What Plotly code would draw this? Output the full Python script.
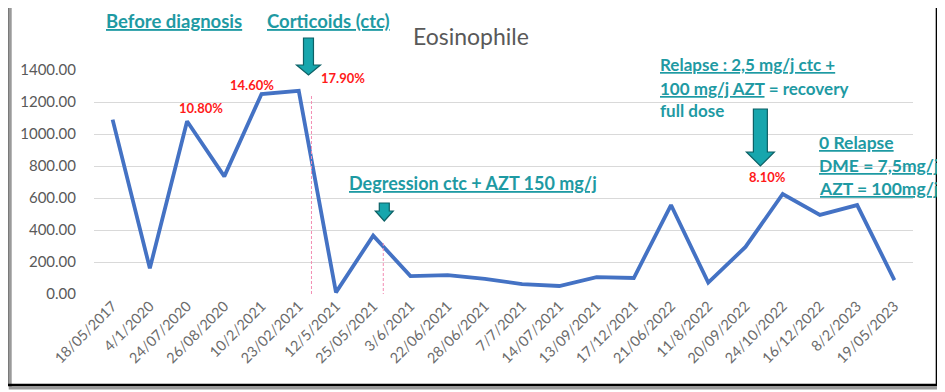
import plotly.graph_objects as go

dates = ["18/05/2017", "4/1/2020", "24/07/2020", "26/08/2020", "10/2/2021", "23/02/2021",
         "12/5/2021", "25/05/2021", "3/6/2021", "22/06/2021", "28/06/2021", "7/7/2021",
         "14/07/2021", "13/09/2021", "17/12/2021", "21/06/2022", "11/8/2022", "20/09/2022",
         "24/10/2022", "16/12/2022", "8/2/2023", "19/05/2023"]
eosinophils = [1090, 160, 1080, 735, 1250, 1270, 10, 365, 112, 118, 94, 62, 50, 106, 100,
               556, 71, 294, 625, 494, 556, 87]
y_ticks = [0, 200, 400, 600, 800, 1000, 1200, 1400]

OFF = 8  # page body margin
W, H = 945 - OFF, 392 - OFF
L, R, T, B = 92, 913, 70, 294
def px(x): return (x - L) / (R - L)
def py(y): return (B - y) / (B - T)

TEAL = "#1e9aa3"
FONT = "Lato, 'Open Sans', sans-serif"
idx = list(range(len(dates)))

fig = go.Figure()
fig.add_trace(go.Scatter(x=idx, y=eosinophils, mode="lines",
                         line=dict(color="#4472C4", width=3.8), hoverinfo="skip"))

ann = []
def text(t, x, y, size=16, color=TEAL, xa="left", ya="middle"):
    ann.append(dict(text=t, x=px(x), y=py(y), xref="paper", yref="paper", showarrow=False,
                    xanchor=xa, yanchor=ya, font=dict(family=FONT, size=size, color=color)))

text("Eosinophile", 470, 36, size=23, color="#595959", xa="center")
text("<b><u>Before diagnosis</u></b>", 102, 8, size=18.5, ya="top")
text("<b><u>Corticoids (ctc)</u></b>", 263, 8, size=18.5, ya="top")
text("<b><u>Degression ctc + AZT 150 mg/j</u></b>", 346, 183, size=18)
text("<b><u>Relapse : 2,5 mg/j ctc +</u></b>", 657, 65, size=17)
text("<b><u>100 mg/j AZT</u> = recovery</b>", 657, 88, size=17)
text("<b>full dose</b>", 657, 110, size=17)
text("<b><u>0 Relapse</u></b>", 817, 142, size=17.5)
text("<b><u>DME = 7,5mg/j</u></b>", 817, 165, size=17.5)
text("<b><u>AZT = 100mg/j</u></b>", 817, 188, size=17.5)

RED = "#ff1a1a"
text("<b>10.80%</b>", 199, 108, size=13, color=RED, xa="center")
text("<b>14.60%</b>", 250, 85, size=13, color=RED, xa="center")
text("<b>17.90%</b>", 342, 78, size=13, color=RED, xa="center")
text("<b>8.10%</b>", 767, 177, size=13, color=RED, xa="center")

shapes = []
def arrow(xl, xr, ytop, yhead, hl, hr, ytip):
    xc = (hl + hr) / 2
    pts = [(xl, ytop), (xr, ytop), (xr, yhead), (hr, yhead), (xc, ytip), (hl, yhead), (xl, yhead)]
    path = "M " + " L ".join(f"{px(a):.5f},{py(b):.5f}" for a, b in pts) + " Z"
    shapes.append(dict(type="path", path=path, xref="paper", yref="paper",
                       fillcolor="#17a6ad", line=dict(color="#0d6166", width=1.2)))

arrow(302, 312, 38, 65, 295, 319, 75)
arrow(753, 767, 109, 152, 746, 774, 166)
arrow(378, 388, 203, 211, 374, 392, 221)

# pink dashed vertical markers
shapes.append(dict(type="line", x0=px(310), x1=px(310), y0=py(96), y1=py(294), xref="paper", yref="paper",
                   line=dict(color="#f28db3", width=1, dash="3px,2px")))
shapes.append(dict(type="line", x0=px(382), x1=px(382), y0=py(243), y1=py(294), xref="paper", yref="paper",
                   line=dict(color="#f28db3", width=1, dash="3px,2px")))

# frame with shadow
shapes.append(dict(type="rect", x0=px(8), x1=px(940), y0=py(6), y1=py(388), xref="paper", yref="paper",
                   line=dict(color="#9a9a9a", width=3), layer="below"))
shapes.append(dict(type="rect", x0=px(5), x1=px(937), y0=py(3), y1=py(385), xref="paper", yref="paper",
                   line=dict(color="#000000", width=2.5)))

fig.update_layout(
    width=W, height=H, margin=dict(l=L - OFF, r=945 - R, t=T - OFF, b=392 - B),
    paper_bgcolor="white", plot_bgcolor="white", showlegend=False,
    annotations=ann, shapes=shapes,
    font=dict(family=FONT),
    xaxis=dict(range=[-0.5, len(dates) - 0.5], tickvals=idx, ticktext=dates, tickangle=-45,
               showgrid=False, zeroline=False, showline=False, ticks="",
               tickfont=dict(family=FONT, size=14.5, color="#6b6b6b")),
    yaxis=dict(range=[0, 1400], tickvals=y_ticks, tickformat=".2f", showgrid=True,
               gridcolor="#d9d9d9", gridwidth=1, zeroline=False, showline=False,
               ticks="outside", ticklen=14, tickcolor="rgba(0,0,0,0)",
               tickfont=dict(family=FONT, size=15, color="#595959")),
)
fig.write_html("out.html")
